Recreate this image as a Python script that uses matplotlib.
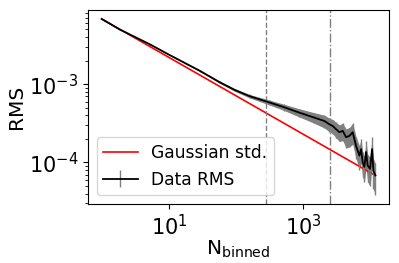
import numpy as np
import matplotlib
matplotlib.use('Agg')
import matplotlib.pyplot as plt
from matplotlib.ticker import NullLocator

# Gaussian expectation (straight line in log-log, read at the two ends)
n_gauss = [1, 11720]
std_gauss = [6.81e-3, 6.8e-5]

# measured RMS vs number of binned samples
n_binned = [1, 1.85, 5.2, 10.2, 28.8, 56.6, 94.6, 158, 273, 313, 522, 871,
            1456, 2050, 2430, 2730, 3060, 3430, 3840, 4300, 4820, 5400,
            6050, 6790, 7190, 7590, 8050, 8530, 9010, 9780, 10470, 10950,
            11720]
rms = [6.81e-3, 5.00e-3, 3.23e-3, 2.36e-3, 1.48e-3, 1.06e-3, 8.45e-4,
       7.02e-4, 6.05e-4, 5.83e-4, 5.05e-4, 4.32e-4, 3.73e-4, 3.38e-4,
       3.07e-4, 2.92e-4, 2.65e-4, 2.43e-4, 2.53e-4, 2.10e-4, 2.18e-4,
       2.43e-4, 1.63e-4, 1.22e-4, 1.48e-4, 1.01e-4, 8.77e-5, 1.36e-4,
       9.10e-5, 8.28e-5, 1.48e-4, 7.87e-5, 6.81e-5]
rms_err = [2.7e-5, 3.0e-5, 2.9e-5, 3.1e-5, 3.3e-5, 3.3e-5, 3.4e-5, 3.6e-5,
           4.1e-5, 4.2e-5, 4.7e-5, 5.2e-5, 5.8e-5, 6.3e-5, 6.1e-5, 6.1e-5,
           6.0e-5, 5.8e-5, 6.3e-5, 5.7e-5, 6.1e-5, 7.3e-5, 5.1e-5, 4.1e-5,
           5.1e-5, 3.6e-5, 3.2e-5, 5.1e-5, 3.5e-5, 3.3e-5, 6.1e-5, 3.3e-5,
           3.0e-5]

# lines marking the binning scales
vline_pos = [275, 2490]
vline_style = ['--', '-.']

fig = plt.figure(figsize=(3.99, 2.63), dpi=100)
ax = fig.add_axes([0.2206, 0.2243, 0.7544, 0.7377])

n = np.array(n_binned)
r = np.array(rms)
e = np.array(rms_err)

ax.plot(n_gauss, std_gauss, color='red', lw=1.2, label='Gaussian std.')
ax.fill_between(n, r - e, r + e, color='gray', lw=0)
ax.errorbar(n, r, yerr=e, color='black', ecolor='gray', lw=1.3,
            elinewidth=1, label='Data RMS')

for xv, ls in zip(vline_pos, vline_style):
    ax.axvline(xv, color='gray', ls=ls, lw=1)

ax.set_xscale('log')
ax.set_yscale('log')
ax.set_xticks([10, 1000])
ax.xaxis.set_minor_locator(NullLocator())
ax.tick_params(labelsize=15)

ax.set_xlabel(r'$\mathregular{N_{binned}}$', fontsize=14.5, labelpad=0)
ax.set_ylabel('RMS', fontsize=14.5, labelpad=2)

ax.legend(loc='lower left', fontsize=12.3)

fig.savefig('out.png', dpi=100)
